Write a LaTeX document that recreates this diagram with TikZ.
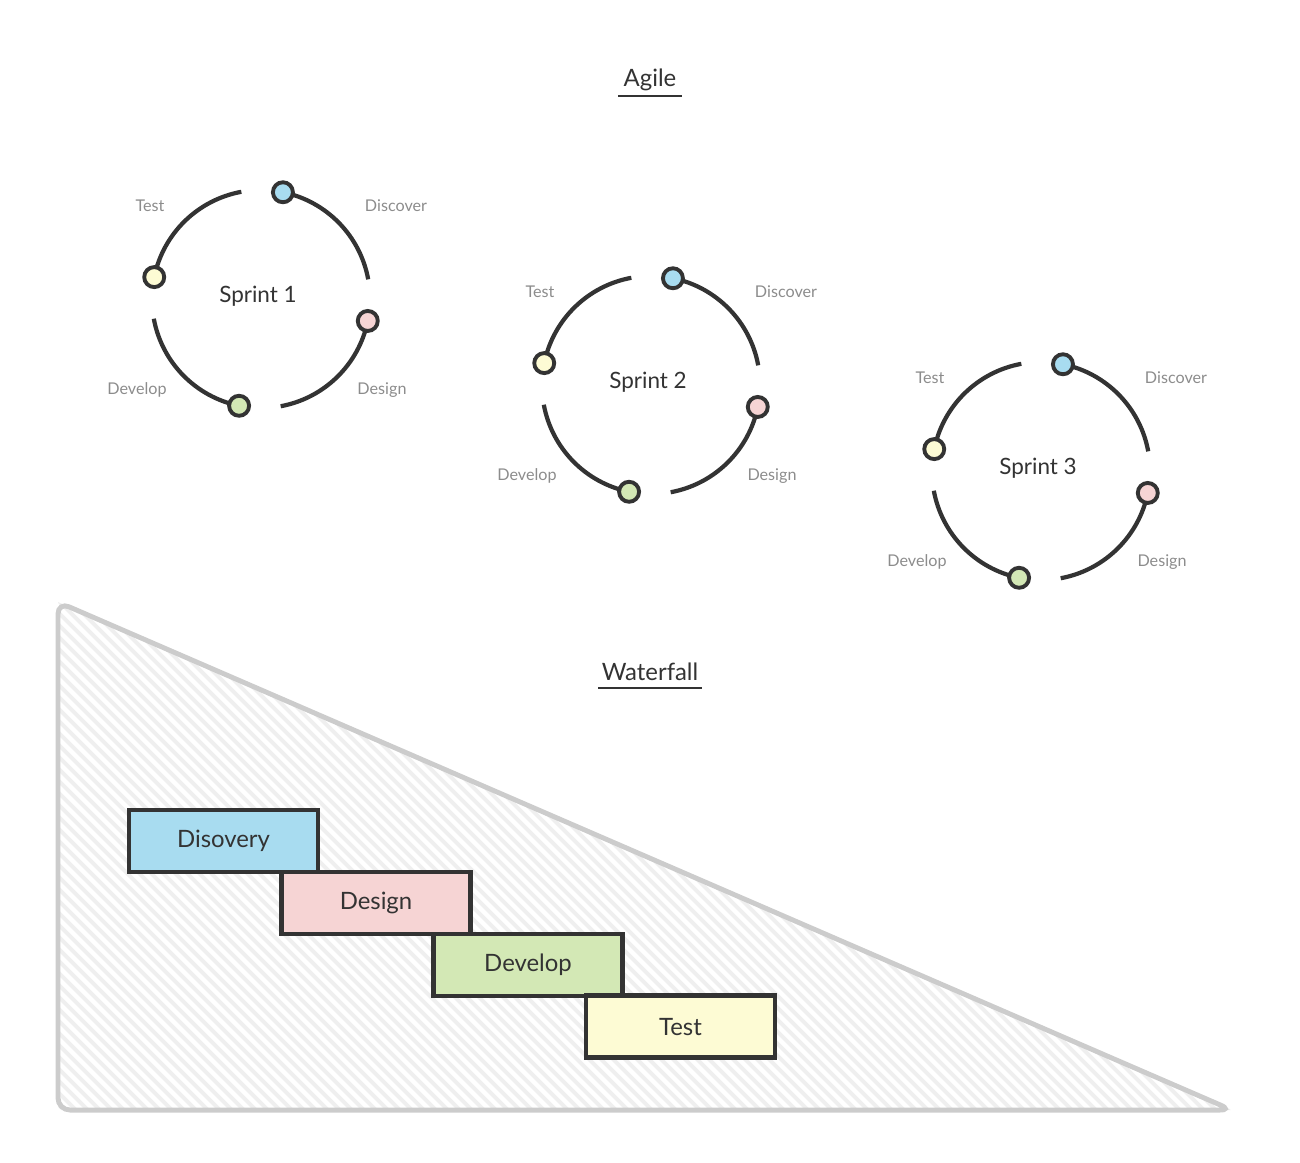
\documentclass[tikz,border=0pt]{standalone}
\usepackage{fontspec}
\setmainfont{Lato}
\usepackage{tikz}
\definecolor{ink}{HTML}{333333}
\definecolor{soft}{HTML}{8C8C8C}
\definecolor{edge}{HTML}{CCCCCC}
\definecolor{hatch}{HTML}{EFEFEF}
\definecolor{cDisc}{HTML}{A8DCF0}
\definecolor{cDes}{HTML}{F6D4D4}
\definecolor{cDev}{HTML}{D3E8B5}
\definecolor{cTest}{HTML}{FDFBD4}
\tikzset{
  arc/.style={draw=ink, line width=1.2pt},
  dot/.style={circle, draw=ink, line width=1.1pt, inner sep=0pt, minimum size=0.2cm},
  phase/.style={font=\fontsize{4.6}{5}\selectfont, text=soft},
  stage/.style={draw=ink, line width=1.2pt, minimum width=1.89cm, minimum height=0.62cm, inner sep=0pt, font=\fontsize{6.8}{8}\selectfont, text=ink},
  title/.style={font=\fontsize{6.8}{8}\selectfont, text=ink},
}
\newcommand{\sprint}[3]{%
  \begin{scope}[shift={(#1,#2)}]
  \foreach \a/\c in {78.4/cDisc,-11.6/cDes,-101.6/cDev,168.4/cTest} {
    \draw[arc] (\a:1.09) arc[start angle=\a, end angle=\a-68, radius=1.09];
    \node[dot, fill=\c] at (\a:1.09) {};
  }
  \node[title, font=\fontsize{6.4}{8}\selectfont] (s#3) at (-0.03,0.03) {Sprint #3};
  \node[phase] at (-1.11,0.93) {Test};
  \node[phase] at (1.35,0.93) {Discover};
  \node[phase] at (-1.24,-0.91) {Develop};
  \node[phase] at (1.21,-0.91) {Design};
  \end{scope}}
\begin{document}
\begin{tikzpicture}
\useasboundingbox (0,0) rectangle (13,-11.62);
% waterfall backdrop
\begin{scope}
\clip (0.58,-6.02) -- (0.58,-11.10) -- (12.32,-11.10) -- cycle;
\foreach \x in {-6,-5.88,...,13} \draw[hatch, line width=1.1pt] (\x,-5.9) -- ++(5.4,-5.4);
\end{scope}
\draw[edge, line width=1.4pt, rounded corners=0.12cm] (0.58,-6.02) -- (0.58,-11.10) -- (12.32,-11.10) -- cycle;
% agile
\node[title] (agile) at (6.5,-0.80) {Agile};
\draw[ink, line width=0.7pt] (6.18,-0.96) -- (6.82,-0.96);
\sprint{2.61}{-2.99}{1}
\sprint{6.51}{-3.85}{2}
\sprint{10.41}{-4.71}{3}
% waterfall
\node[title] (wf) at (6.5,-6.72) {Waterfall};
\draw[ink, line width=0.7pt] (5.98,-6.88) -- (7.02,-6.88);
\node[stage, fill=cDisc] (disc) at (2.235,-8.41) {Disovery};
\node[stage, fill=cDes] (des) at (3.76,-9.03) {Design};
\node[stage, fill=cDev] (dev) at (5.28,-9.65) {Develop};
\node[stage, fill=cTest] (test) at (6.805,-10.265) {Test};
\end{tikzpicture}
\end{document}
